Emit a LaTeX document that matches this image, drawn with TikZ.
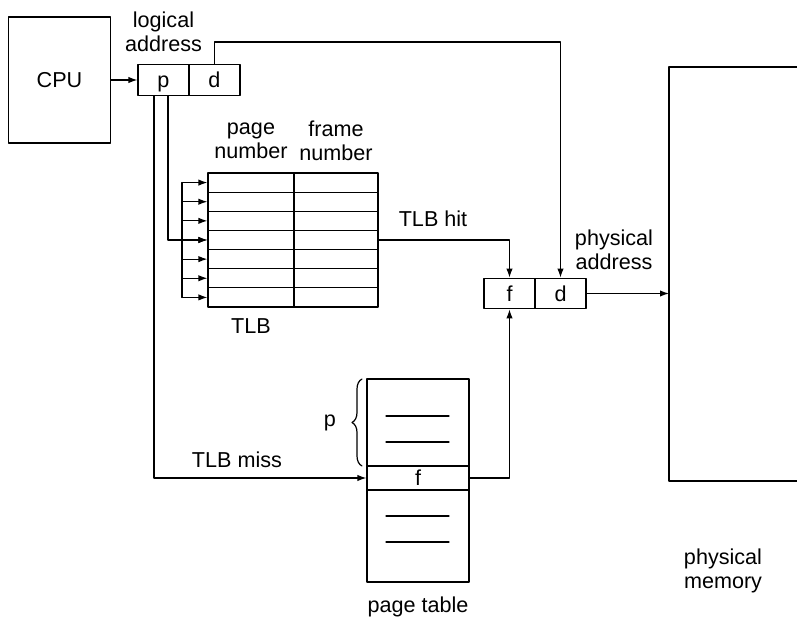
\documentclass[tikz,border=0pt]{standalone}
\usepackage{fontspec}
\setmainfont{Liberation Sans}
\usetikzlibrary{arrows.meta,calc,decorations.pathreplacing}

\begin{document}
\begin{tikzpicture}[x=0.5pt,y=-0.5pt,line cap=round,line join=round,line width=.6pt,
  every node/.style={font=\fontsize{10.8}{12}\selectfont},
  txt/.style={align=center,inner sep=0pt},
  cell/.style={draw,inner sep=0pt,minimum width=25.5pt,minimum height=15.25pt,text height=8pt,text depth=0pt},
  tlbrow/.style={draw,inner sep=0pt,minimum height=9.57pt},
  ptbox/.style={draw,inner sep=0pt,minimum width=51pt},
  conn/.style={-{Latex[length=4.5pt,width=3.2pt]}}]
\path[use as bounding box] (0,0) rectangle (797,620);
\node[draw,inner sep=0pt,minimum width=51pt,minimum height=63pt] (cpu) at (59.5,80) {CPU};
\node[cell] (lp) at (163.5,80) {p};
\node[cell] (ld) at (214.5,80) {d};
\node[txt] (lalbl) at (163.5,32) {logical\\address};
\node[cell] (pf) at (509.5,293.5) {f};
\node[cell] (pd) at (560.5,293.5) {d};
\foreach \i in {1,...,7}{
  \node[tlbrow,minimum width=43pt] (pg\i) at (251,{173+19.14*(\i-0.5)}) {};
  \node[tlbrow,minimum width=42pt] (fr\i) at (336,{173+19.14*(\i-0.5)}) {};
}
\node[txt] (pgnum) at (251,141) {page\\number};
\node[txt] (frnum) at (336,141) {frame\\number};
\node[txt] (tlblbl) at (251,326) {TLB};
\node[ptbox,minimum height=43.5pt] (pttop) at (418,422.5) {};
\node[ptbox,minimum height=12pt,text height=7.6pt,text depth=0pt] (ptf) at (418,478) {f};
\node[ptbox,minimum height=46pt] (ptbot) at (418,536) {};
\node[txt] (ptlbl) at (418,607) {page table};
\node (plbl) at (330,423) {p};
\coordinate (toprail) at (0,42);
\coordinate (bus) at (182,0);
\coordinate (memtop) at (669,67);
\coordinate (membot) at (669,481);
\draw[conn] (cpu) -- (lp);
\draw[conn] (ld.north) -- (ld.north |- toprail) -| (pd.north);
\draw (bus |- pg1.west) -- (bus |- pg7.west);
\foreach \i in {1,...,7} \draw[conn] (bus |- pg\i.west) -- (pg\i.west);
\draw[conn] ($(lp.south)+(4.5,0)$) |- (pg4.west);
\draw[conn] ($(lp.south)+(-9.5,0)$) |- (ptf.west);
\draw[conn] (fr4.east) -| (pf.north);
\draw[conn] (ptf.east) -| (pf.south);
\node[txt,anchor=south] (hitlbl) at (433,227) {TLB hit};
\node[txt,anchor=south] (misslbl) at (237,468) {TLB miss};
\draw (386,416) -- (449,416);
\draw (386,442) -- (449,442);
\draw (386,516) -- (449,516);
\draw (386,542) -- (449,542);
\draw[decorate,decoration={brace,amplitude=5pt}] (362,466) -- (362,379);
\draw (797,67) -- (memtop) -- (membot) -- (797,481);
\draw[conn] (pd.east) -- (pd.east -| memtop);
\node[txt] (addrlbl) at (614,250) {physical\\address};
\node[txt] (memlbl) at (723,571) {physical\\memory};
\end{tikzpicture}
\end{document}
